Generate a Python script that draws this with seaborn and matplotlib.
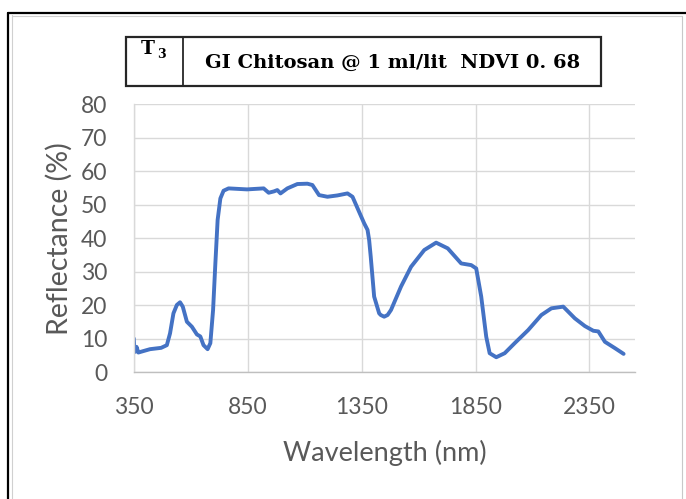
import matplotlib
matplotlib.use("Agg")
import matplotlib.pyplot as plt
from matplotlib.lines import Line2D
from matplotlib.patches import Rectangle
import seaborn as sns
import pandas as pd

# ---- data ----
wavelength = [350, 352, 356, 362, 370, 385, 421, 470, 495, 509, 524, 539, 553, 565,
              583, 605, 627, 642, 656, 674, 686, 698, 708, 718, 730, 744, 766, 847,
              920, 942, 965, 980, 994, 1024, 1068, 1112, 1134, 1163, 1200, 1244, 1288,
              1310, 1339, 1361, 1376, 1383, 1390, 1405, 1427, 1434, 1449, 1464, 1479,
              1523, 1567, 1625, 1677, 1728, 1787, 1831, 1853, 1875, 1897, 1912, 1941,
              1978, 2022, 2081, 2139, 2183, 2235, 2286, 2330, 2367, 2389, 2418, 2462,
              2500]
reflectance = [10.1, 7.5, 6.1, 7.6, 5.9, 6.2, 6.9, 7.3, 8.1, 11.6, 17.6, 20.1, 20.9, 19.6,
               15.1, 13.6, 11.3, 10.7, 8.1, 6.9, 8.7, 18.6, 32.5, 45.5, 51.9, 54.2, 54.9, 54.6,
               54.9, 53.6, 54.0, 54.4, 53.4, 54.9, 56.2, 56.3, 55.9, 52.9, 52.4, 52.8, 53.4,
               52.4, 47.9, 44.5, 42.5, 39.5, 34.5, 22.6, 17.6, 17.1, 16.6, 17.1, 18.6,
               25.6, 31.5, 36.5, 38.7, 37.0, 32.5, 32.0, 31.0, 22.6, 10.6, 5.7, 4.5,
               5.7, 8.7, 12.6, 17.1, 19.1, 19.6, 16.1, 13.8, 12.4, 12.2, 9.1, 7.2,
               5.5]
assert len(wavelength) == len(reflectance)

x_ticks = [350, 850, 1350, 1850, 2350]
y_ticks = [0, 10, 20, 30, 40, 50, 60, 70, 80]
x_label = "Wavelength (nm)"
y_label = "Reflectance (%)"
title_left = "T"
title_sub = "3"
title_right = "GI Chitosan @ 1 ml/lit  NDVI 0. 68"

df = pd.DataFrame({"Wavelength": wavelength, "Reflectance": reflectance})

sns.set_theme(style="whitegrid")
plt.rcParams["font.family"] = ["Lato", "DejaVu Sans"]

W, H = 686, 499
fig = plt.figure(figsize=(W / 100, H / 100), dpi=100)
fig.patch.set_facecolor("white")

def fx(px):
    return px / W

def fy(py):
    return 1 - py / H

ax = fig.add_axes([fx(133.8), fy(372.3), fx(635) - fx(133.8), fy(104.3) - fy(372.3)])
ax.set_facecolor("white")

sns.lineplot(data=df, x="Wavelength", y="Reflectance", ax=ax, color="#4472C4",
             linewidth=2.8, sort=False, estimator=None)

ax.set_xlim(350, 2550)
ax.set_ylim(0, 80)
ax.set_xticks(x_ticks)
ax.set_yticks(y_ticks)
ax.grid(True, color="#D9D9D9", linewidth=1.0)
for s in ["top", "right"]:
    ax.spines[s].set_visible(False)
ax.spines["left"].set_color("#D9D9D9")
ax.spines["left"].set_linewidth(1.0)
ax.spines["bottom"].set_color("#BFBFBF")
ax.spines["bottom"].set_linewidth(1.0)

ax.tick_params(axis="both", length=0, labelsize=16.5, labelcolor="#595959")
ax.tick_params(axis="y", pad=19)
ax.tick_params(axis="x", pad=18)

ax.set_xlabel(x_label, fontsize=19.5, color="#595959")
ax.set_ylabel(y_label, fontsize=20.5, color="#595959")
ax.xaxis.label.set_va("center")
ax.yaxis.label.set_va("center")
ax.xaxis.set_label_coords(0.5, (372.3 - 453) / (372.3 - 104.3))
ax.yaxis.set_label_coords((59 - 133.8) / (635 - 133.8), 0.5)

# ---- title box ----
box_l, box_r, box_t, box_b, box_div = 125.7, 600.7, 37.3, 85.7, 182.7
fig.add_artist(Rectangle((fx(box_l), fy(box_b)), fx(box_r) - fx(box_l), fy(box_t) - fy(box_b),
                         transform=fig.transFigure, fill=False, edgecolor="#262626", linewidth=1.6))
fig.add_artist(Line2D([fx(box_div), fx(box_div)], [fy(box_t), fy(box_b)],
                      transform=fig.transFigure, color="#262626", linewidth=1.3))
serif = ["DejaVu Serif"]
fig.text(fx(141), fy(49.5), title_left, family=serif, weight="bold", fontsize=13.5,
         ha="left", va="center", color="black")
fig.text(fx(157.5), fy(54), title_sub, family=serif, weight="bold", fontsize=9,
         ha="left", va="center", color="black")
fig.text(fx(393), fy(63), title_right, family=serif, weight="bold",
         fontsize=14, ha="center", va="center", color="black")

# ---- outer frame ----
fig.add_artist(Line2D([fx(8), fx(8)], [fy(13), 0], transform=fig.transFigure, color="black", linewidth=1.6))
fig.add_artist(Line2D([fx(8), 1], [fy(13), fy(13)], transform=fig.transFigure, color="black", linewidth=1.6))
fig.add_artist(Line2D([fx(11.5), fx(11.5)], [fy(15), 0], transform=fig.transFigure, color="#D0D0D0", linewidth=0.8))
fig.add_artist(Line2D([fx(11.5), fx(682)], [fy(15.5), fy(15.5)], transform=fig.transFigure, color="#D0D0D0", linewidth=0.8))
fig.add_artist(Line2D([fx(682), fx(682)], [fy(15.5), 0], transform=fig.transFigure, color="#C8C8C8", linewidth=0.8))

fig.savefig("out.png", dpi=100, facecolor="white")
